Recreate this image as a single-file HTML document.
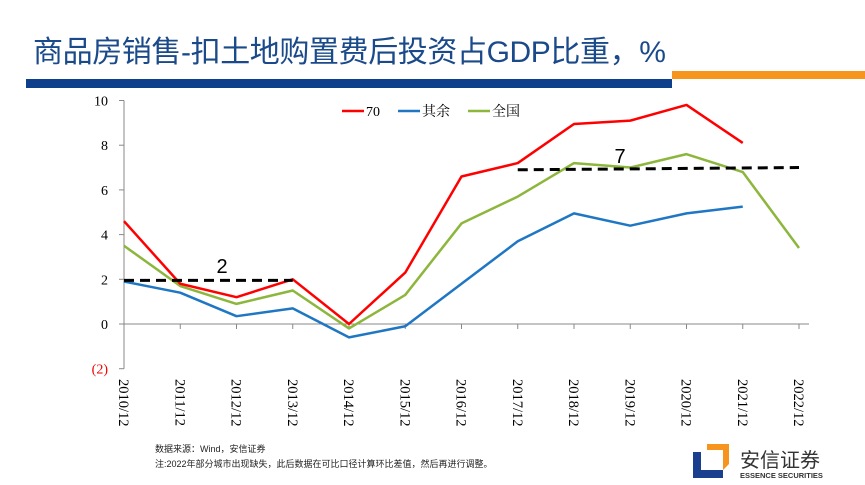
<!DOCTYPE html>
<html><head><meta charset="utf-8">
<style>
body{margin:0;width:865px;height:485px;background:#fff;overflow:hidden;position:relative;font-family:"Liberation Sans","Noto Sans CJK SC",sans-serif}
</style></head>
<body>
<div style="position:absolute;left:33px;top:27px;font-size:30px;color:#1a4a8a;font-family:'Liberation Sans','Noto Sans CJK SC',sans-serif;letter-spacing:-0.4px;white-space:nowrap">商品房销售-扣土地购置费后投资占GDP比重，%</div>
<div style="position:absolute;left:26px;top:79px;width:646px;height:9px;background:#0d3f8a"></div>
<div style="position:absolute;left:672px;top:71px;width:193px;height:8px;background:#f7941d"></div>
<svg id="chart" width="865" height="485" style="position:absolute;left:0;top:0"></svg>
<div style="position:absolute;left:155px;top:442px;font-size:9px;color:#222;line-height:15px">数据来源：Wind，安信证券<br>注:2022年部分城市出现缺失，此后数据在可比口径计算环比差值，然后再进行调整。</div>
<div style="position:absolute;left:693px;top:444px;width:170px;height:38px">
<svg width="40" height="34" style="position:absolute;left:0;top:0"><path d="M14 0 H36 V20 L30 26 V6 H14 Z" fill="#f7941d"/><path d="M0 8 H8 V26 H30 V34 H0 Z" fill="#1a3f8f"/></svg>
<div style="position:absolute;left:47px;top:4px;font-size:20px;color:#333;font-family:'Noto Sans CJK SC',sans-serif;line-height:22px">安信证券</div>
<div style="position:absolute;left:47px;top:27px;font-size:7.5px;color:#333;font-weight:bold">ESSENCE SECURITIES</div>
</div>
<script>
const categories=["2010/12","2011/12","2012/12","2013/12","2014/12","2015/12","2016/12","2017/12","2018/12","2019/12","2020/12","2021/12","2022/12"];
const s70=[4.6,1.8,1.2,2.0,0.0,2.3,6.6,7.2,8.95,9.1,9.8,8.1,null];
const sRest=[1.9,1.4,0.35,0.7,-0.6,-0.1,1.8,3.7,4.95,4.4,4.95,5.25,null];
const sAll=[3.5,1.7,0.9,1.5,-0.2,1.3,4.5,5.7,7.2,7.0,7.6,6.8,3.4];
const yTicks=[10,8,6,4,2,0,-2];
const yTickLabels=["10","8","6","4","2","0","(2)"];
const ref1=[0,3,1.95,1.95];
const ref2=[7,12,6.9,7.0];
const NS="http://www.w3.org/2000/svg";
const svg=document.getElementById('chart');
const x=i=>124+i*56.25;
const y=v=>324-v*22.35;
function el(t,a){const e=document.createElementNS(NS,t);for(const k in a)e.setAttribute(k,a[k]);svg.appendChild(e);return e;}
let e=el('line',{x1:124,y1:y(10),x2:124,y2:y(-2),stroke:'#888'});

e=el('line',{x1:124,y1:y(0),x2:x(12)+10,y2:y(0),stroke:'#888'});

yTicks.forEach((v,i)=>{
 el('line',{x1:119,y1:y(v),x2:124,y2:y(v),stroke:'#888'});
 const t=el('text',{x:108,y:y(v)+5,'text-anchor':'end','font-size':14,'font-family':'Liberation Serif,serif',fill:v<0?'#e00':'#000'});
 t.textContent=yTickLabels[i];
 
});
categories.forEach((c,i)=>{
 el('line',{x1:x(i),y1:y(0),x2:x(i),y2:y(0)+5,stroke:'#888'});
 const t=el('text',{x:0,y:0,'font-size':14.5,'font-family':'Liberation Serif,serif',fill:'#000',transform:`translate(${x(i)-5},379) rotate(90)`});
 t.textContent=c;
 
});
function line(d,color,name){
 let p='';d.forEach((v,i)=>{if(v!==null)p+=(p?'L':'M')+x(i)+' '+y(v);});
 const l=el('path',{d:p,fill:'none',stroke:color,'stroke-width':2.5,'stroke-linejoin':'round'});
 
}
line(sAll,'#8db63c','series-national');
line(sRest,'#1f77c4','series-rest');
line(s70,'#f00','series-70-cities');
[ref1,ref2].forEach((r,k)=>{
 const l=el('line',{x1:x(r[0]),y1:y(r[2]),x2:x(r[1]),y2:y(r[3]),stroke:'#000','stroke-width':3,'stroke-dasharray':'10,6'});
 
});
let t=el('text',{x:222,y:273,'text-anchor':'middle','font-size':20,fill:'#000'});t.textContent='2';

t=el('text',{x:620,y:163,'text-anchor':'middle','font-size':20,fill:'#000'});t.textContent='7';

const leg=[["70",'#f00',342],["其余",'#1f77c4',398],["全国",'#8db63c',468]];
leg.forEach(l=>{
 const g=el('g',{});
 
 const a=document.createElementNS(NS,'line');a.setAttribute('x1',l[2]);a.setAttribute('x2',l[2]+22);a.setAttribute('y1',111);a.setAttribute('y2',111);a.setAttribute('stroke',l[1]);a.setAttribute('stroke-width',2.5);g.appendChild(a);
 const tx=document.createElementNS(NS,'text');tx.setAttribute('x',l[2]+24);tx.setAttribute('y',116);tx.setAttribute('font-size',14);tx.setAttribute('font-family','Liberation Serif,Noto Serif CJK SC,serif');tx.textContent=l[0];g.appendChild(tx);
});
</script>
</body></html>
